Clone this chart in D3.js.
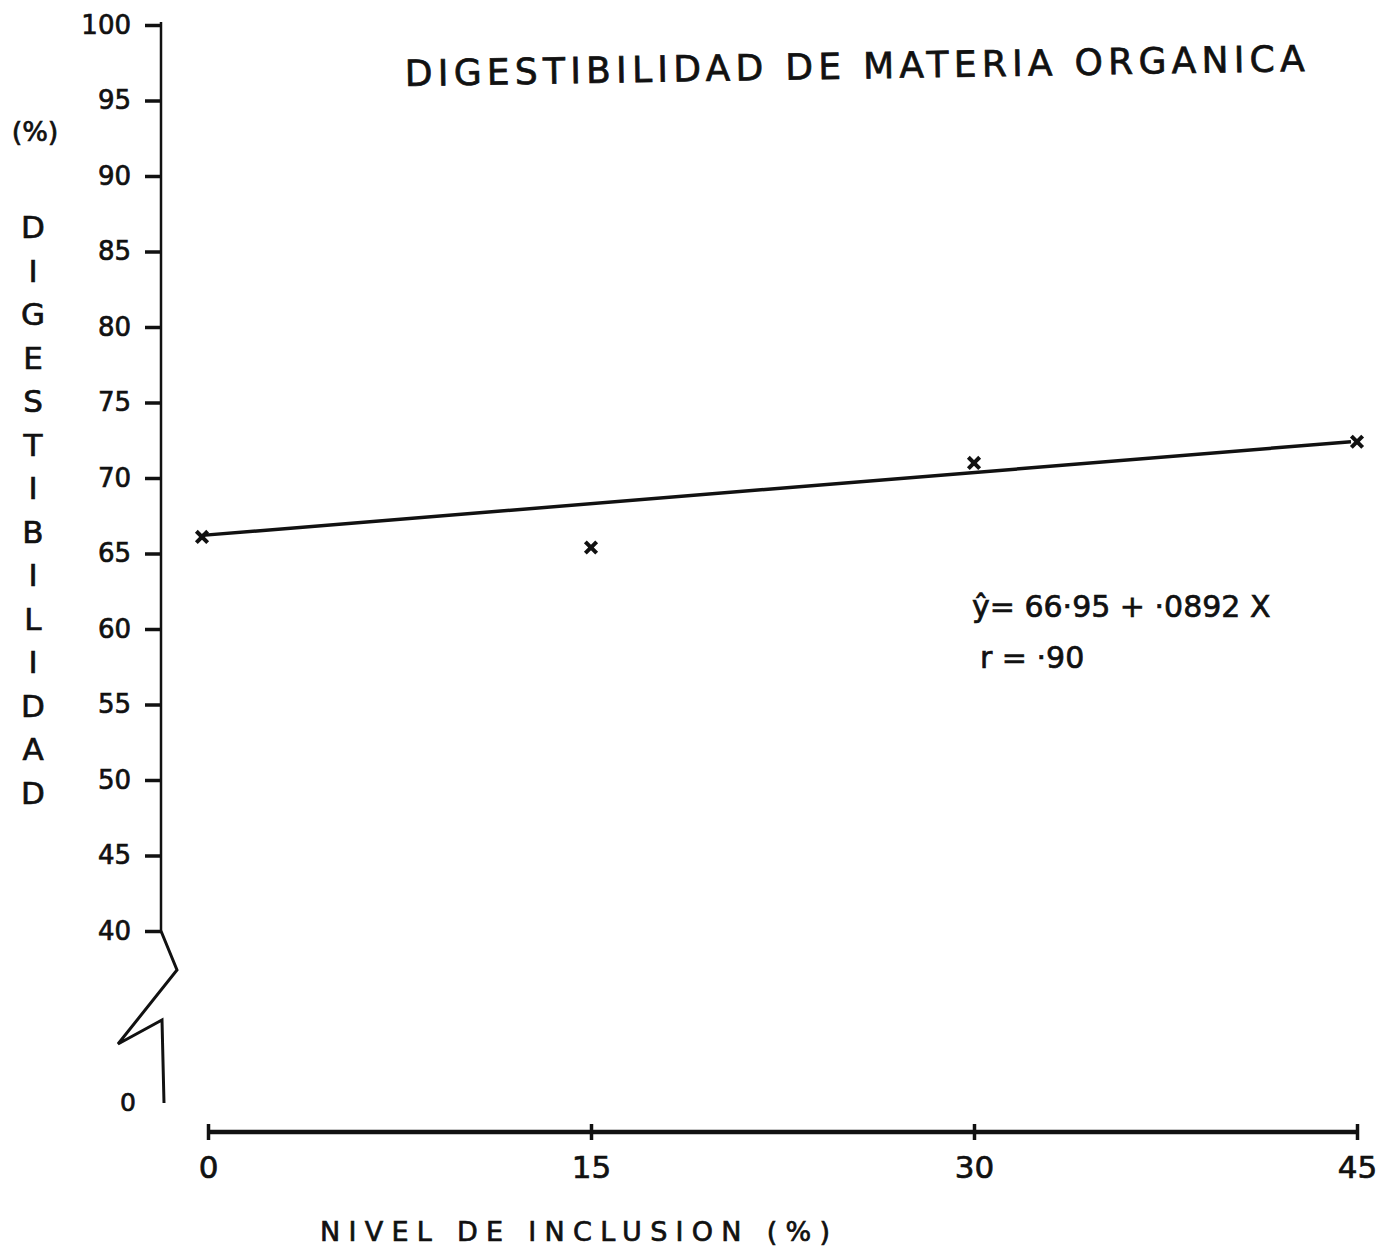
<!DOCTYPE html>
<meta charset="utf-8">
<script src="https://d3js.org/d3.v7.min.js"></script>
<style>
  body { margin: 0; background: #fff; }
  text { font-family: "DejaVu Sans", sans-serif; fill: #111; stroke: #111; stroke-width: 0.7; }
</style>
<div id="chart"></div>
<script>
// data
var nivel = [0, 15, 30, 45];               // nivel de inclusion (%)
var digest = [66.1, 65.4, 71.0, 72.4];     // digestibilidad (%)
var lineX = [0, 45];                        // drawn regression line ends
var lineY = [66.2, 72.4];
var yTicks = [40, 45, 50, 55, 60, 65, 70, 75, 80, 85, 90, 95, 100];
var xTicks = [0, 15, 30, 45];
var yLetters = ["D","I","G","E","S","T","I","B","I","L","I","D","A","D"];

var W = 1384, H = 1247;
var svg = d3.select("#chart").append("svg")
    .attr("width", W).attr("height", H);

var x = d3.scaleLinear().domain([0, 45]).range([208, 1357]);
var y = d3.scaleLinear().domain([40, 100]).range([931, 25]);
var axisX = 161, baseY = 1132;

// y axis (40 - 100)
var gy = svg.append("g").attr("transform", "translate(" + axisX + ",0)")
    .call(d3.axisLeft(y).tickValues(yTicks).tickSize(16).tickPadding(14).tickFormat(d3.format("d")));
gy.select(".domain").attr("stroke", "#111").attr("stroke-width", 2.5).attr("d", "M0," + (y(100) - 3) + "V" + y(40));
gy.selectAll(".tick line").attr("stroke", "#111").attr("stroke-width", 3.5);
gy.selectAll(".tick text").attr("font-size", 26).attr("fill", "#111");

// axis break down to zero
svg.append("path")
  .attr("d", "M" + axisX + "," + y(40) + "L177,970L118,1044L162,1020L164,1103")
  .attr("fill", "none").attr("stroke", "#111").attr("stroke-width", 3)
  .attr("stroke-linejoin", "miter");
svg.append("text").attr("x", 128).attr("y", 1111).attr("text-anchor", "middle")
  .attr("font-size", 25).text("0");

// x axis
var gx = svg.append("g").attr("transform", "translate(0," + baseY + ")")
    .call(d3.axisBottom(x).tickValues(xTicks).tickSize(8).tickPadding(16));
gx.select(".domain").attr("stroke", "#111").attr("stroke-width", 4.5).attr("d", "M" + x(0) + ",0H" + x(45));
gx.selectAll(".tick line").attr("stroke", "#111").attr("stroke-width", 3.5).attr("y1", -8);
gx.selectAll(".tick text").attr("font-size", 31).attr("fill", "#111");

// regression line
svg.append("path")
  .datum(d3.zip(lineX, lineY))
  .attr("fill", "none").attr("stroke", "#111").attr("stroke-width", 3.5)
  .attr("d", d3.line().x(d => x(d[0]) - 6).y(d => y(d[1])));

// data points as small crosses
svg.selectAll(".pt")
  .data(d3.zip(nivel, digest))
  .enter().append("path")
  .attr("class", "pt")
  .attr("transform", d => "translate(" + (x(d[0]) - (d[0] === 0 ? 6 : 0)) + "," + y(d[1]) + ") rotate(45)")
  .attr("d", "M-8,0H8M0,-8V8")
  .attr("stroke", "#111").attr("stroke-width", 4).attr("fill", "none");

// title
svg.append("text")
  .attr("x", 405).attr("y", 86)
  .attr("transform", "rotate(-0.95,405,86)")
  .attr("font-size", 36)
  .attr("textLength", 900).attr("lengthAdjust", "spacing")
  .text("DIGESTIBILIDAD DE MATERIA ORGANICA");

// y label
svg.append("text").attr("x", 35).attr("y", 141).attr("text-anchor", "middle")
  .attr("font-size", 27).text("(%)");
svg.selectAll(".ylet")
  .data(yLetters)
  .enter().append("text")
  .attr("class", "ylet")
  .attr("x", 33).attr("y", (d, i) => 238 + i * 43.5)
  .attr("text-anchor", "middle").attr("font-size", 31)
  .text(d => d);

// x label
svg.append("text")
  .attr("x", 320).attr("y", 1241)
  .attr("font-size", 27)
  .attr("textLength", 510).attr("lengthAdjust", "spacing")
  .text("NIVEL  DE  INCLUSION  (%)");

// equation
svg.append("text").attr("x", 972).attr("y", 617).attr("font-size", 30)
  .text("ŷ= 66·95 + ·0892 X");
svg.append("text").attr("x", 980).attr("y", 668).attr("font-size", 30)
  .text("r = ·90");
</script>
